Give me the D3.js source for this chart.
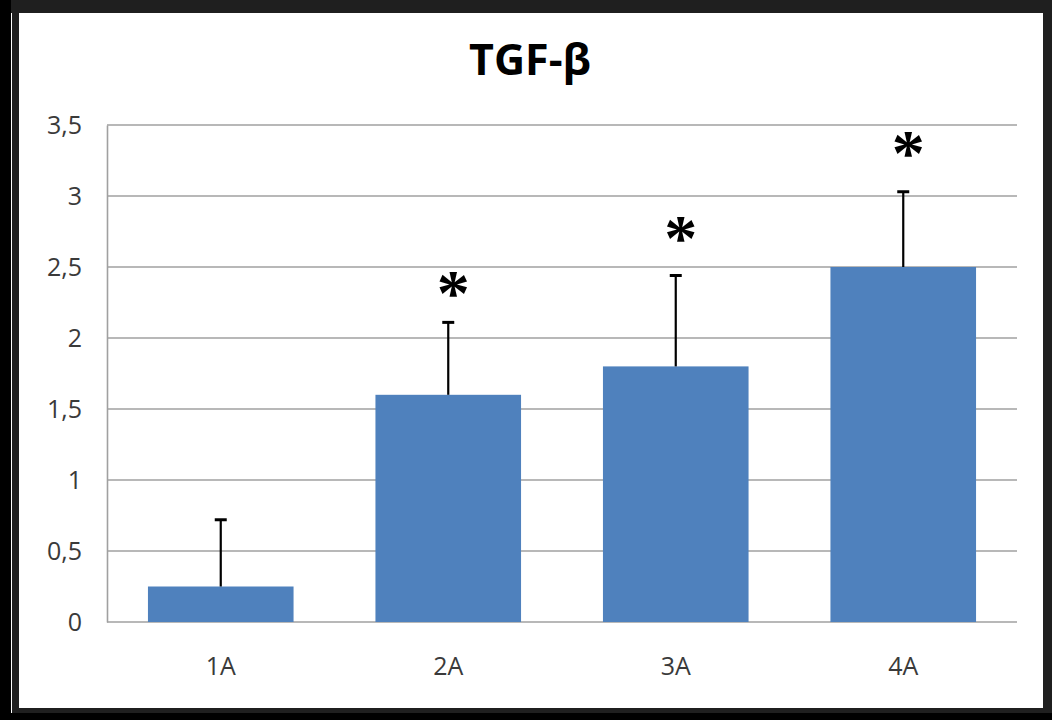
<!DOCTYPE html>
<html>
<head>
<meta charset="utf-8">
<script src="https://cdn.jsdelivr.net/npm/d3@7"></script>
<style>
  html, body { margin: 0; padding: 0; background: #1f1f1f; }
  svg { display: block; }
</style>
</head>
<body>
<svg id="chart" width="1052" height="720"></svg>
<script>
// TGF-β expression by group, with SD error bars and significance marks
const categories = ["1A", "2A", "3A", "4A"];
const means = [0.25, 1.6, 1.8, 2.5];
const errors = [0.47, 0.51, 0.64, 0.53];
const asteriskLevels = [null, 2.37, 2.76, 3.36];
const yTicks = [0, 0.5, 1, 1.5, 2, 2.5, 3, 3.5];
const yTickLabels = ["0", "0,5", "1", "1,5", "2", "2,5", "3", "3,5"];
const title = "TGF-β";

const W = 1052, H = 720;
const svg = d3.select("#chart");

// frame: black outer edge with a dark inner border around the white panel
svg.append("rect").attr("x", 0).attr("y", 0).attr("width", W).attr("height", H).attr("fill", "#1f1f1f");
svg.append("rect").attr("x", 0).attr("y", 0).attr("width", 11).attr("height", H).attr("fill", "#000");
svg.append("rect").attr("x", 0).attr("y", 713).attr("width", W).attr("height", 7).attr("fill", "#000");
svg.append("rect").attr("x", 11).attr("y", 13).attr("width", 1).attr("height", 700).attr("fill", "#fff");
svg.append("rect").attr("x", 19).attr("y", 13).attr("width", 1024).attr("height", 695).attr("fill", "#fff");

const margin = { left: 107, right: 1017, top: 125, bottom: 622 };

const x = d3.scaleBand()
  .domain(categories)
  .range([margin.left, margin.right])
  .paddingInner(0.36)
  .paddingOuter(0.18);

const y = d3.scaleLinear()
  .domain([0, 3.5])
  .range([margin.bottom, margin.top]);

// gridlines
svg.append("g")
  .selectAll("line")
  .data(yTicks)
  .join("line")
  .attr("x1", margin.left)
  .attr("x2", margin.right)
  .attr("y1", d => y(d))
  .attr("y2", d => y(d))
  .attr("stroke", "#a0a0a0")
  .attr("stroke-width", 1.6);

// y axis
const yAxis = d3.axisLeft(y)
  .tickValues(yTicks)
  .tickFormat((d, i) => yTickLabels[i])
  .tickSize(0)
  .tickPadding(25);
const gy = svg.append("g").attr("transform", `translate(${margin.left},0)`).call(yAxis);
gy.select(".domain").attr("stroke", "#a0a0a0").attr("stroke-width", 1.6);
gy.selectAll("text")
  .attr("font-family", "'Open Sans', sans-serif")
  .attr("font-size", 25)
  .attr("fill", "#3a3a3a");

// x axis labels
const xAxis = d3.axisBottom(x).tickSize(0).tickPadding(35);
const gx = svg.append("g").attr("transform", `translate(0,${margin.bottom})`).call(xAxis);
gx.select(".domain").remove();
gx.selectAll("text")
  .attr("font-family", "'Open Sans', sans-serif")
  .attr("font-size", 25)
  .attr("fill", "#3a3a3a");

// bars
svg.append("g")
  .selectAll("rect")
  .data(categories)
  .join("rect")
  .attr("x", d => x(d))
  .attr("width", x.bandwidth())
  .attr("y", (d, i) => y(means[i]))
  .attr("height", (d, i) => y(0) - y(means[i]))
  .attr("fill", "#4f81bd");

// error bars (upper only)
const eb = svg.append("g");
categories.forEach((c, i) => {
  const cx = x(c) + x.bandwidth() / 2;
  eb.append("line")
    .attr("x1", cx).attr("x2", cx)
    .attr("y1", y(means[i])).attr("y2", y(means[i] + errors[i]))
    .attr("stroke", "#000").attr("stroke-width", 2.2);
  eb.append("line")
    .attr("x1", cx - 6).attr("x2", cx + 6)
    .attr("y1", y(means[i] + errors[i])).attr("y2", y(means[i] + errors[i]))
    .attr("stroke", "#000").attr("stroke-width", 3);
});

// significance asterisks, centred on their level
const starSize = 66;
svg.append("g")
  .selectAll("text")
  .data(categories.map((c, i) => ({ c, v: asteriskLevels[i] })).filter(d => d.v !== null))
  .join("text")
  .attr("x", d => x(d.c) + x.bandwidth() / 2 + 5)
  .attr("y", d => y(d.v) + starSize * 0.45)
  .attr("text-anchor", "middle")
  .attr("font-family", "'Liberation Serif', serif")
  .attr("font-weight", "bold")
  .attr("font-size", starSize)
  .attr("fill", "#000")
  .text("*");

// title
svg.append("text")
  .attr("x", 530)
  .attr("y", 75)
  .attr("text-anchor", "middle")
  .attr("font-family", "'Open Sans', sans-serif")
  .attr("font-weight", "bold")
  .attr("font-size", 43)
  .attr("fill", "#000")
  .text(title);
</script>
</body>
</html>
